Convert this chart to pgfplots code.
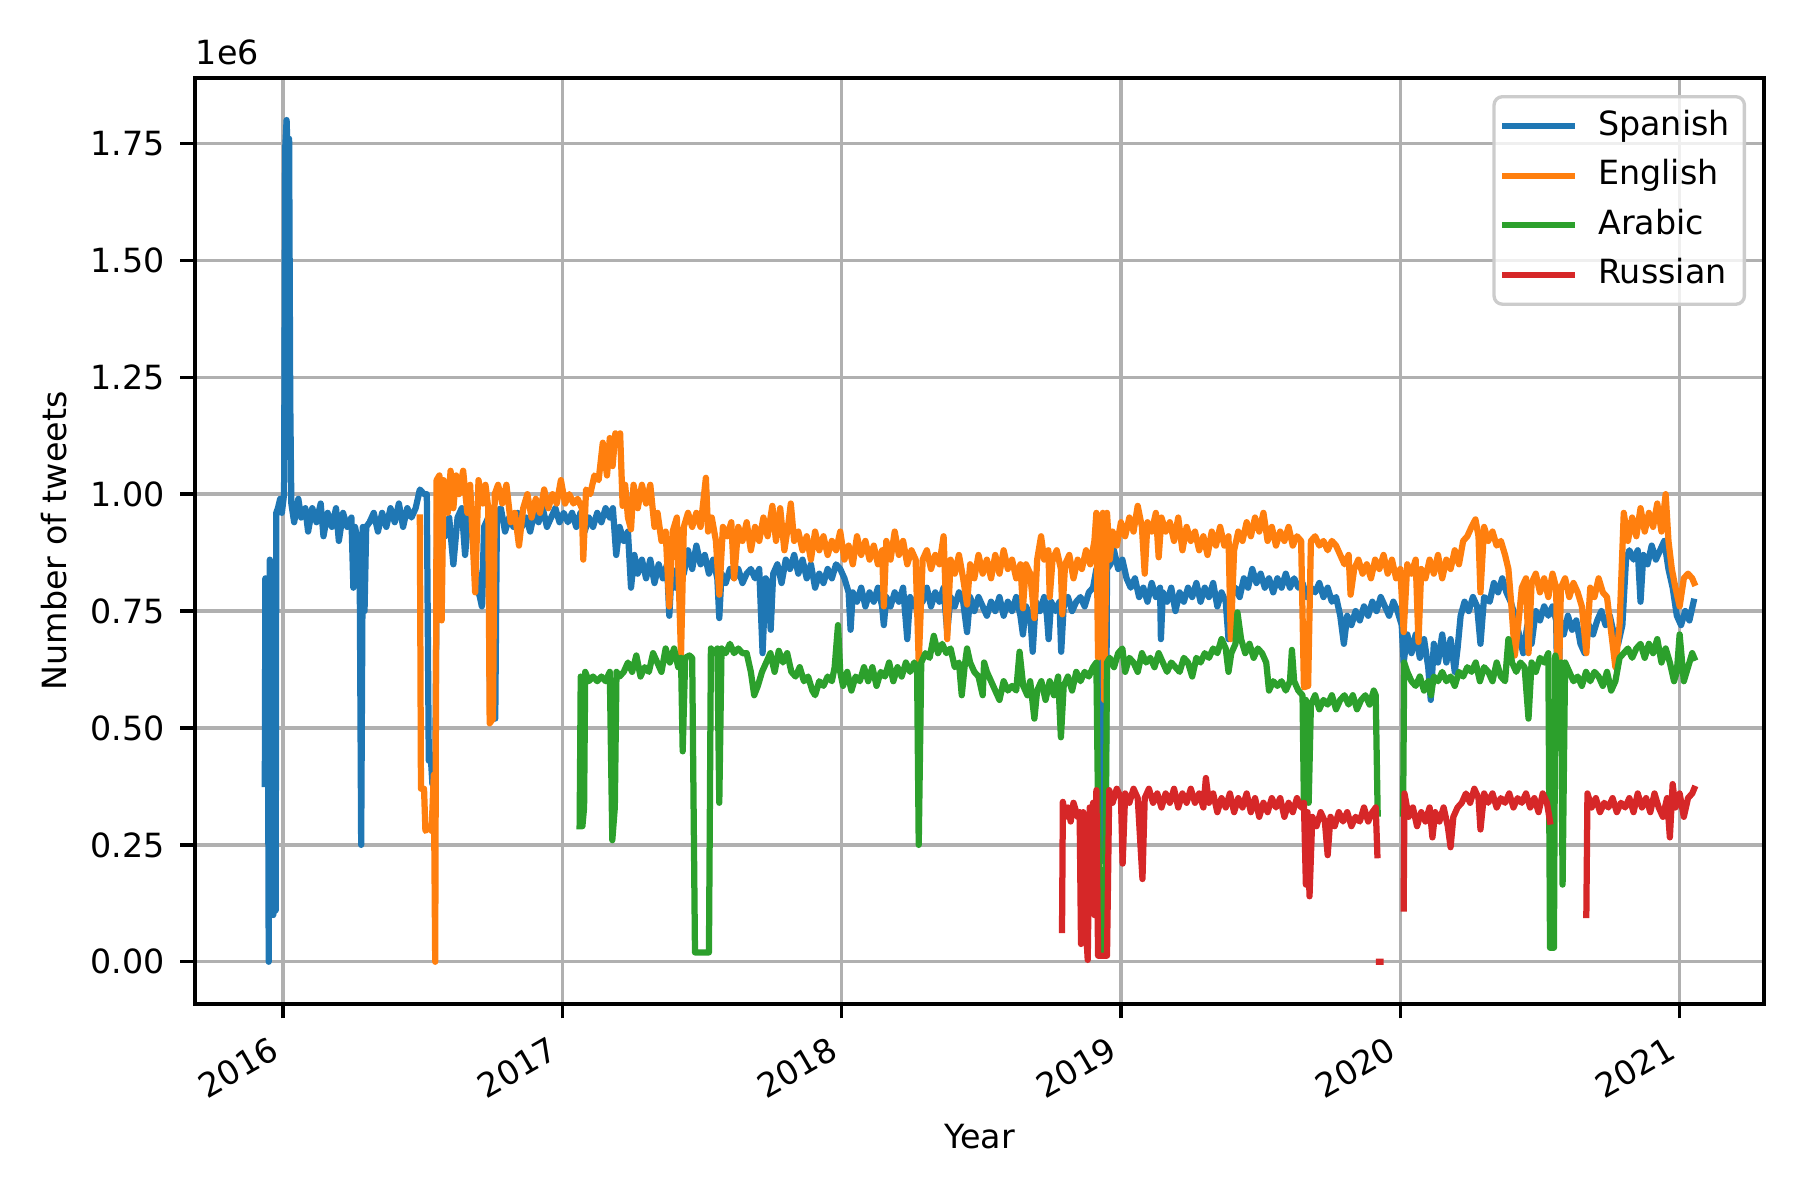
\documentclass[border=0pt]{standalone}
\usepackage{pgfplots}
\pgfplotsset{compat=1.18}
\usepackage{pgfplotstable}
\usepackage{fontspec}
\setmainfont{DejaVu Sans}
\definecolor{tabblue}{HTML}{1F77B4}
\definecolor{taborange}{HTML}{FF7F0E}
\definecolor{tabgreen}{HTML}{2CA02C}
\definecolor{tabred}{HTML}{D62728}
\definecolor{gridgray}{HTML}{B0B0B0}

\pgfplotstableread{
x y
2015.935 0.38
2015.937 0.82
2015.940 0.40
2015.945 0.80
2015.949 0.00
2015.953 0.86
2015.957 0.40
2015.961 0.84
2015.965 0.10
2015.970 0.12
2015.974 0.11
2015.976 0.96
2015.982 0.97
2015.990 0.99
2015.996 0.96
2016.004 1.00
2016.008 1.74
2016.013 1.80
2016.018 1.70
2016.022 1.76
2016.026 1.20
2016.030 0.98
2016.040 0.94
2016.055 0.99
2016.065 0.95
2016.080 0.97
2016.090 0.92
2016.105 0.97
2016.120 0.94
2016.135 0.98
2016.145 0.91
2016.160 0.96
2016.175 0.93
2016.190 0.97
2016.200 0.90
2016.215 0.96
2016.230 0.93
2016.245 0.95
2016.252 0.80
2016.258 0.93
2016.268 0.90
2016.275 0.80
2016.280 0.25
2016.286 0.93
2016.292 0.75
2016.298 0.93
2016.310 0.94
2016.325 0.96
2016.340 0.92
2016.355 0.96
2016.370 0.93
2016.385 0.97
2016.400 0.94
2016.415 0.98
2016.430 0.93
2016.445 0.97
2016.460 0.95
2016.475 0.97
2016.490 1.01
2016.505 1.00
2016.515 1.00
2016.522 0.43
2016.530 0.43
2016.535 0.38
2016.545 0.40
2016.552 0.97
2016.565 0.95
2016.580 0.91
2016.595 0.95
2016.610 0.85
2016.625 0.95
2016.640 0.97
2016.652 0.87
2016.665 0.96
2016.680 0.94
2016.695 0.80
2016.705 0.78
2016.712 0.76
2016.720 0.93
2016.735 0.95
2016.742 0.52
2016.760 0.52
2016.766 0.96
2016.780 0.97
2016.795 0.92
2016.810 0.95
2016.825 0.93
2016.840 0.96
2016.855 0.93
2016.870 0.95
2016.885 0.92
2016.900 0.96
2016.915 0.94
2016.930 0.97
2016.945 0.93
2016.960 0.95
2016.975 0.97
2016.990 0.94
2017.005 0.96
2017.020 0.94
2017.035 0.96
2017.050 0.93
2017.065 0.96
2017.080 0.92
2017.095 0.95
2017.110 0.93
2017.125 0.96
2017.140 0.94
2017.155 0.97
2017.170 0.95
2017.181 0.97
2017.193 0.87
2017.205 0.93
2017.220 0.90
2017.235 0.92
2017.246 0.80
2017.258 0.87
2017.270 0.83
2017.285 0.86
2017.300 0.82
2017.315 0.86
2017.330 0.81
2017.345 0.85
2017.360 0.82
2017.375 0.85
2017.383 0.74
2017.392 0.84
2017.405 0.80
2017.420 0.86
2017.435 0.83
2017.450 0.88
2017.465 0.84
2017.480 0.89
2017.495 0.85
2017.510 0.87
2017.525 0.83
2017.540 0.86
2017.555 0.82
2017.562 0.735
2017.570 0.83
2017.585 0.81
2017.600 0.84
2017.615 0.82
2017.630 0.84
2017.645 0.81
2017.660 0.83
2017.675 0.84
2017.690 0.82
2017.705 0.84
2017.717 0.66
2017.728 0.82
2017.738 0.81
2017.746 0.71
2017.755 0.83
2017.770 0.85
2017.785 0.81
2017.800 0.86
2017.815 0.84
2017.830 0.87
2017.845 0.83
2017.860 0.86
2017.875 0.82
2017.890 0.85
2017.905 0.80
2017.920 0.83
2017.935 0.81
2017.950 0.84
2017.965 0.82
2017.980 0.85
2017.995 0.84
2018.010 0.82
2018.025 0.79
2018.032 0.71
2018.040 0.79
2018.055 0.77
2018.070 0.80
2018.085 0.76
2018.100 0.79
2018.115 0.77
2018.130 0.80
2018.145 0.76
2018.151 0.72
2018.160 0.78
2018.175 0.76
2018.190 0.79
2018.205 0.77
2018.220 0.80
2018.235 0.69
2018.245 0.78
2018.260 0.76
2018.275 0.79
2018.290 0.77
2018.305 0.80
2018.320 0.76
2018.335 0.79
2018.350 0.77
2018.365 0.80
2018.378 0.705
2018.390 0.78
2018.405 0.76
2018.420 0.79
2018.435 0.77
2018.449 0.705
2018.460 0.78
2018.475 0.75
2018.490 0.78
2018.505 0.76
2018.520 0.74
2018.535 0.77
2018.550 0.75
2018.565 0.78
2018.580 0.74
2018.595 0.77
2018.610 0.75
2018.625 0.78
2018.640 0.74
2018.649 0.70
2018.660 0.76
2018.675 0.74
2018.684 0.663
2018.695 0.77
2018.710 0.75
2018.725 0.78
2018.735 0.74
2018.741 0.69
2018.750 0.77
2018.765 0.75
2018.780 0.77
2018.786 0.663
2018.795 0.76
2018.810 0.78
2018.825 0.75
2018.840 0.77
2018.855 0.78
2018.870 0.76
2018.885 0.79
2018.900 0.80
2018.912 0.84
2018.925 0.80
2018.935 0.215
2018.945 0.22
2018.950 0.84
2018.962 0.85
2018.975 0.88
2018.990 0.84
2019.005 0.86
2019.020 0.82
2019.035 0.80
2019.050 0.82
2019.065 0.78
2019.080 0.80
2019.095 0.77
2019.110 0.81
2019.125 0.78
2019.140 0.80
2019.143 0.69
2019.150 0.79
2019.165 0.77
2019.180 0.80
2019.195 0.75
2019.210 0.79
2019.225 0.77
2019.240 0.80
2019.255 0.78
2019.270 0.81
2019.285 0.77
2019.300 0.80
2019.315 0.78
2019.330 0.81
2019.345 0.76
2019.360 0.79
2019.375 0.77
2019.385 0.69
2019.395 0.78
2019.410 0.80
2019.425 0.78
2019.440 0.82
2019.455 0.80
2019.470 0.84
2019.485 0.81
2019.500 0.83
2019.515 0.80
2019.530 0.82
2019.545 0.79
2019.560 0.82
2019.575 0.80
2019.590 0.83
2019.605 0.80
2019.620 0.82
2019.635 0.80
2019.650 0.81
2019.665 0.78
2019.680 0.80
2019.695 0.79
2019.710 0.81
2019.725 0.78
2019.740 0.80
2019.755 0.77
2019.770 0.78
2019.785 0.74
2019.798 0.68
2019.810 0.74
2019.825 0.72
2019.840 0.75
2019.855 0.73
2019.870 0.76
2019.885 0.74
2019.900 0.77
2019.915 0.75
2019.930 0.78
2019.945 0.76
2019.960 0.74
2019.975 0.77
2019.990 0.75
2020.005 0.72
2020.012 0.64
2020.025 0.70
2020.040 0.66
2020.055 0.70
2020.070 0.65
2020.085 0.69
2020.100 0.63
2020.109 0.56
2020.120 0.68
2020.135 0.64
2020.150 0.70
2020.165 0.64
2020.180 0.69
2020.195 0.62
2020.205 0.67
2020.216 0.74
2020.230 0.77
2020.245 0.75
2020.260 0.78
2020.275 0.76
2020.287 0.68
2020.300 0.78
2020.320 0.77
2020.335 0.81
2020.350 0.79
2020.365 0.82
2020.380 0.79
2020.395 0.77
2020.410 0.74
2020.425 0.70
2020.440 0.66
2020.455 0.72
2020.470 0.68
2020.485 0.75
2020.500 0.73
2020.515 0.76
2020.530 0.74
2020.545 0.76
2020.558 0.73
2020.565 0.47
2020.572 0.73
2020.585 0.70
2020.600 0.74
2020.615 0.71
2020.630 0.73
2020.645 0.68
2020.660 0.66
2020.675 0.72
2020.690 0.70
2020.705 0.73
2020.720 0.75
2020.735 0.72
2020.750 0.74
2020.765 0.70
2020.780 0.68
2020.795 0.72
2020.808 0.86
2020.820 0.88
2020.835 0.86
2020.850 0.88
2020.860 0.77
2020.870 0.87
2020.885 0.85
2020.900 0.89
2020.915 0.86
2020.930 0.88
2020.945 0.90
2020.960 0.84
2020.975 0.80
2020.990 0.74
2021.005 0.72
2021.020 0.75
2021.035 0.73
2021.050 0.77
}\spanish

\pgfplotstableread{
x y
2016.490 0.95
2016.494 0.37
2016.505 0.37
2016.510 0.28
2016.525 0.29
2016.532 0.28
2016.540 0.40
2016.545 0.00
2016.550 1.03
2016.560 1.04
2016.568 0.73
2016.575 1.03
2016.590 0.96
2016.600 1.05
2016.610 0.97
2016.620 1.04
2016.630 1.00
2016.645 1.05
2016.660 0.96
2016.670 1.02
2016.688 0.79
2016.700 1.03
2016.715 0.98
2016.725 1.02
2016.735 0.97
2016.740 0.51
2016.752 0.52
2016.758 1.00
2016.770 1.02
2016.785 0.98
2016.800 1.02
2016.815 0.94
2016.830 0.96
2016.845 0.89
2016.860 0.97
2016.875 1.00
2016.890 0.95
2016.905 0.99
2016.920 0.96
2016.935 1.01
2016.950 0.97
2016.965 1.00
2016.980 0.98
2016.995 1.03
2017.010 0.98
2017.025 1.00
2017.040 0.98
2017.055 0.99
2017.070 0.97
2017.075 0.86
2017.085 1.01
2017.100 1.00
2017.115 1.04
2017.130 1.03
2017.145 1.11
2017.160 1.04
2017.170 1.12
2017.180 1.06
2017.190 1.13
2017.200 1.12
2017.207 1.13
2017.216 0.975
2017.225 1.02
2017.235 0.95
2017.246 0.925
2017.255 1.02
2017.270 0.97
2017.285 1.02
2017.300 0.98
2017.315 1.02
2017.330 0.93
2017.341 0.96
2017.355 0.90
2017.370 0.92
2017.383 0.76
2017.395 0.92
2017.410 0.95
2017.425 0.655
2017.435 0.93
2017.450 0.96
2017.465 0.93
2017.480 0.96
2017.495 0.93
2017.514 1.035
2017.522 0.92
2017.535 0.95
2017.550 0.90
2017.562 0.785
2017.575 0.93
2017.590 0.91
2017.605 0.94
2017.615 0.82
2017.630 0.93
2017.645 0.90
2017.660 0.94
2017.675 0.88
2017.690 0.93
2017.705 0.90
2017.720 0.95
2017.735 0.91
2017.752 0.975
2017.765 0.90
2017.780 0.97
2017.795 0.88
2017.810 0.94
2017.818 0.98
2017.830 0.90
2017.845 0.92
2017.860 0.88
2017.875 0.91
2017.890 0.86
2017.905 0.92
2017.920 0.88
2017.935 0.91
2017.950 0.87
2017.965 0.90
2017.980 0.88
2017.995 0.92
2018.010 0.86
2018.025 0.89
2018.040 0.85
2018.055 0.91
2018.070 0.87
2018.085 0.90
2018.100 0.86
2018.115 0.89
2018.130 0.85
2018.145 0.88
2018.151 0.76
2018.160 0.90
2018.175 0.86
2018.190 0.92
2018.205 0.87
2018.220 0.90
2018.235 0.85
2018.250 0.88
2018.265 0.86
2018.276 0.64
2018.290 0.86
2018.305 0.88
2018.320 0.84
2018.335 0.87
2018.350 0.85
2018.365 0.91
2018.378 0.69
2018.390 0.86
2018.405 0.83
2018.420 0.87
2018.435 0.82
2018.449 0.764
2018.460 0.85
2018.475 0.82
2018.490 0.87
2018.505 0.83
2018.520 0.86
2018.535 0.82
2018.550 0.87
2018.565 0.83
2018.580 0.88
2018.595 0.84
2018.610 0.86
2018.625 0.82
2018.640 0.85
2018.649 0.756
2018.660 0.85
2018.675 0.83
2018.690 0.735
2018.700 0.86
2018.714 0.91
2018.725 0.86
2018.740 0.88
2018.745 0.78
2018.755 0.86
2018.770 0.88
2018.785 0.84
2018.790 0.743
2018.800 0.85
2018.815 0.87
2018.830 0.82
2018.845 0.86
2018.860 0.84
2018.875 0.88
2018.890 0.85
2018.905 0.90
2018.912 0.96
2018.918 0.65
2018.925 0.88
2018.935 0.96
2018.940 0.56
2018.950 0.96
2018.960 0.86
2018.970 0.92
2018.985 0.89
2019.000 0.94
2019.015 0.91
2019.030 0.95
2019.045 0.92
2019.060 0.975
2019.075 0.93
2019.085 0.83
2019.095 0.94
2019.110 0.92
2019.125 0.96
2019.135 0.865
2019.145 0.95
2019.160 0.92
2019.175 0.94
2019.190 0.90
2019.205 0.95
2019.220 0.88
2019.235 0.93
2019.250 0.90
2019.265 0.92
2019.280 0.88
2019.295 0.91
2019.310 0.87
2019.325 0.92
2019.340 0.89
2019.355 0.93
2019.370 0.89
2019.385 0.91
2019.393 0.69
2019.405 0.88
2019.420 0.92
2019.435 0.90
2019.450 0.94
2019.465 0.91
2019.480 0.95
2019.495 0.92
2019.510 0.96
2019.525 0.90
2019.540 0.93
2019.555 0.89
2019.570 0.92
2019.585 0.90
2019.600 0.93
2019.615 0.89
2019.630 0.91
2019.645 0.90
2019.655 0.587
2019.670 0.59
2019.680 0.90
2019.695 0.91
2019.710 0.89
2019.725 0.90
2019.740 0.88
2019.755 0.90
2019.770 0.89
2019.785 0.87
2019.800 0.85
2019.815 0.87
2019.822 0.785
2019.835 0.84
2019.850 0.86
2019.865 0.83
2019.880 0.85
2019.895 0.82
2019.910 0.86
2019.925 0.84
2019.940 0.87
2019.955 0.83
2019.970 0.86
2019.985 0.82
2020.000 0.84
2020.012 0.705
2020.025 0.85
2020.040 0.83
2020.055 0.86
2020.065 0.684
2020.075 0.84
2020.090 0.82
2020.105 0.86
2020.120 0.83
2020.135 0.87
2020.150 0.82
2020.165 0.86
2020.180 0.84
2020.195 0.88
2020.210 0.85
2020.225 0.90
2020.240 0.91
2020.255 0.93
2020.269 0.946
2020.280 0.91
2020.287 0.79
2020.300 0.93
2020.315 0.90
2020.330 0.92
2020.345 0.89
2020.360 0.90
2020.375 0.87
2020.387 0.84
2020.398 0.76
2020.410 0.655
2020.422 0.72
2020.435 0.80
2020.450 0.82
2020.459 0.66
2020.470 0.81
2020.485 0.83
2020.500 0.79
2020.515 0.82
2020.530 0.78
2020.545 0.83
2020.558 0.80
2020.565 0.52
2020.575 0.80
2020.590 0.82
2020.605 0.78
2020.620 0.81
2020.635 0.79
2020.650 0.76
2020.666 0.66
2020.680 0.80
2020.695 0.78
2020.710 0.82
2020.725 0.79
2020.740 0.78
2020.752 0.72
2020.770 0.63
2020.785 0.72
2020.800 0.96
2020.815 0.90
2020.830 0.95
2020.845 0.91
2020.860 0.97
2020.875 0.92
2020.890 0.96
2020.905 0.93
2020.920 0.98
2020.935 0.92
2020.950 1.00
2020.960 0.90
2020.972 0.84
2020.985 0.80
2021.000 0.76
2021.015 0.82
2021.030 0.83
2021.045 0.82
2021.052 0.81
}\english

\pgfplotstableread{
x y
2017.062 0.29
2017.066 0.61
2017.072 0.29
2017.078 0.33
2017.082 0.62
2017.095 0.60
2017.110 0.61
2017.125 0.60
2017.140 0.61
2017.155 0.60
2017.170 0.62
2017.179 0.26
2017.188 0.33
2017.194 0.62
2017.205 0.61
2017.220 0.62
2017.235 0.64
2017.250 0.62
2017.265 0.655
2017.280 0.61
2017.295 0.63
2017.310 0.62
2017.325 0.66
2017.340 0.64
2017.355 0.62
2017.370 0.67
2017.385 0.64
2017.400 0.67
2017.415 0.63
2017.425 0.65
2017.431 0.45
2017.440 0.65
2017.455 0.655
2017.465 0.65
2017.475 0.02
2017.500 0.02
2017.525 0.02
2017.532 0.67
2017.545 0.66
2017.555 0.67
2017.562 0.34
2017.570 0.67
2017.585 0.66
2017.600 0.68
2017.615 0.66
2017.630 0.67
2017.645 0.66
2017.660 0.66
2017.675 0.62
2017.687 0.57
2017.700 0.59
2017.715 0.62
2017.730 0.64
2017.745 0.66
2017.760 0.62
2017.775 0.665
2017.790 0.64
2017.805 0.66
2017.820 0.62
2017.835 0.61
2017.850 0.63
2017.865 0.60
2017.880 0.61
2017.895 0.58
2017.905 0.57
2017.920 0.60
2017.935 0.59
2017.950 0.61
2017.965 0.60
2017.975 0.63
2017.987 0.72
2017.995 0.62
2018.005 0.59
2018.020 0.62
2018.035 0.58
2018.050 0.61
2018.065 0.60
2018.080 0.63
2018.095 0.60
2018.110 0.63
2018.125 0.59
2018.140 0.62
2018.155 0.61
2018.170 0.64
2018.185 0.60
2018.200 0.63
2018.215 0.61
2018.230 0.64
2018.245 0.62
2018.260 0.64
2018.270 0.63
2018.276 0.25
2018.285 0.64
2018.300 0.66
2018.315 0.65
2018.330 0.697
2018.345 0.66
2018.360 0.68
2018.375 0.66
2018.390 0.67
2018.405 0.63
2018.420 0.64
2018.430 0.57
2018.440 0.63
2018.449 0.67
2018.460 0.64
2018.475 0.62
2018.490 0.61
2018.505 0.57
2018.510 0.64
2018.520 0.62
2018.535 0.60
2018.550 0.58
2018.565 0.56
2018.580 0.60
2018.595 0.58
2018.610 0.59
2018.625 0.58
2018.637 0.663
2018.650 0.59
2018.665 0.57
2018.675 0.60
2018.690 0.52
2018.700 0.58
2018.715 0.60
2018.730 0.56
2018.745 0.60
2018.760 0.57
2018.775 0.61
2018.785 0.48
2018.795 0.59
2018.810 0.61
2018.825 0.58
2018.840 0.62
2018.855 0.60
2018.870 0.62
2018.885 0.61
2018.900 0.63
2018.912 0.64
2018.917 0.376
2018.925 0.02
2018.935 0.02
2018.942 0.02
2018.950 0.64
2018.960 0.65
2018.975 0.63
2018.990 0.66
2019.005 0.67
2019.015 0.62
2019.030 0.65
2019.045 0.64
2019.060 0.62
2019.075 0.66
2019.090 0.64
2019.105 0.65
2019.120 0.63
2019.135 0.66
2019.150 0.64
2019.165 0.62
2019.180 0.64
2019.195 0.63
2019.210 0.62
2019.225 0.65
2019.240 0.64
2019.255 0.61
2019.270 0.65
2019.285 0.64
2019.300 0.66
2019.315 0.65
2019.330 0.67
2019.345 0.66
2019.360 0.69
2019.375 0.67
2019.385 0.62
2019.395 0.66
2019.410 0.68
2019.417 0.747
2019.430 0.69
2019.445 0.66
2019.460 0.68
2019.475 0.65
2019.490 0.67
2019.505 0.66
2019.520 0.64
2019.530 0.58
2019.545 0.60
2019.560 0.59
2019.575 0.60
2019.590 0.58
2019.605 0.60
2019.612 0.667
2019.620 0.60
2019.635 0.58
2019.650 0.57
2019.655 0.334
2019.662 0.56
2019.672 0.34
2019.680 0.55
2019.695 0.57
2019.710 0.54
2019.725 0.56
2019.740 0.55
2019.755 0.57
2019.770 0.54
2019.785 0.56
2019.800 0.57
2019.815 0.55
2019.830 0.57
2019.845 0.54
2019.860 0.56
2019.875 0.57
2019.890 0.55
2019.905 0.58
2019.912 0.57
2019.919 0.317
nan nan
2020.010 0.317
2020.014 0.64
2020.025 0.62
2020.040 0.60
2020.055 0.59
2020.070 0.61
2020.085 0.58
2020.100 0.60
2020.110 0.57
2020.120 0.61
2020.135 0.60
2020.150 0.62
2020.165 0.60
2020.180 0.61
2020.195 0.59
2020.210 0.62
2020.225 0.61
2020.240 0.63
2020.255 0.62
2020.270 0.64
2020.285 0.60
2020.300 0.63
2020.315 0.62
2020.330 0.60
2020.345 0.64
2020.360 0.61
2020.375 0.60
2020.387 0.69
2020.400 0.64
2020.415 0.62
2020.430 0.64
2020.445 0.63
2020.459 0.52
2020.470 0.64
2020.485 0.62
2020.500 0.65
2020.515 0.64
2020.530 0.66
2020.536 0.03
2020.550 0.03
2020.555 0.655
2020.565 0.62
2020.575 0.64
2020.581 0.165
2020.590 0.64
2020.605 0.62
2020.620 0.60
2020.635 0.61
2020.650 0.59
2020.665 0.62
2020.680 0.60
2020.695 0.62
2020.710 0.61
2020.725 0.59
2020.740 0.62
2020.755 0.58
2020.770 0.60
2020.785 0.65
2020.800 0.66
2020.815 0.67
2020.830 0.65
2020.845 0.67
2020.860 0.68
2020.875 0.65
2020.890 0.68
2020.905 0.66
2020.920 0.69
2020.935 0.64
2020.950 0.67
2020.965 0.64
2020.980 0.60
2020.990 0.62
2021.000 0.70
2021.015 0.60
2021.030 0.63
2021.045 0.66
2021.052 0.65
}\arabic

\pgfplotstableread{
x y
2018.789 0.068
2018.792 0.342
2018.800 0.31
2018.810 0.33
2018.820 0.30
2018.830 0.34
2018.845 0.31
2018.852 0.32
2018.857 0.038
2018.865 0.32
2018.872 0.10
2018.881 0.004
2018.888 0.33
2018.895 0.13
2018.900 0.34
2018.905 0.10
2018.912 0.367
2018.918 0.013
2018.935 0.013
2018.950 0.013
2018.958 0.367
2018.970 0.34
2018.985 0.37
2019.000 0.35
2019.006 0.21
2019.015 0.36
2019.030 0.34
2019.045 0.37
2019.060 0.35
2019.077 0.177
2019.085 0.35
2019.100 0.37
2019.115 0.34
2019.130 0.36
2019.145 0.33
2019.160 0.36
2019.175 0.34
2019.190 0.37
2019.205 0.33
2019.220 0.36
2019.235 0.34
2019.250 0.37
2019.265 0.34
2019.280 0.36
2019.295 0.33
2019.304 0.393
2019.315 0.34
2019.330 0.36
2019.345 0.32
2019.360 0.35
2019.375 0.33
2019.390 0.36
2019.405 0.32
2019.420 0.35
2019.435 0.33
2019.450 0.36
2019.465 0.32
2019.480 0.35
2019.495 0.31
2019.510 0.34
2019.525 0.32
2019.540 0.35
2019.555 0.33
2019.570 0.35
2019.585 0.31
2019.600 0.34
2019.615 0.32
2019.630 0.35
2019.645 0.33
2019.655 0.34
2019.662 0.165
2019.668 0.32
2019.675 0.14
2019.685 0.31
2019.700 0.29
2019.715 0.32
2019.730 0.30
2019.740 0.228
2019.750 0.31
2019.765 0.29
2019.780 0.32
2019.795 0.30
2019.810 0.32
2019.825 0.29
2019.840 0.31
2019.855 0.30
2019.870 0.33
2019.885 0.30
2019.900 0.32
2019.912 0.33
2019.918 0.228
nan nan
2019.924 0.0
2019.929 0.0
nan nan
2020.012 0.114
2020.015 0.36
2020.030 0.31
2020.045 0.33
2020.060 0.29
2020.075 0.32
2020.090 0.30
2020.105 0.33
2020.115 0.266
2020.125 0.32
2020.140 0.30
2020.155 0.33
2020.170 0.29
2020.180 0.245
2020.190 0.31
2020.205 0.33
2020.220 0.34
2020.235 0.36
2020.250 0.34
2020.265 0.37
2020.280 0.35
2020.287 0.283
2020.300 0.36
2020.315 0.34
2020.330 0.36
2020.345 0.33
2020.360 0.35
2020.375 0.34
2020.390 0.36
2020.405 0.33
2020.420 0.35
2020.435 0.34
2020.450 0.36
2020.465 0.33
2020.480 0.35
2020.495 0.32
2020.510 0.36
2020.525 0.34
2020.536 0.30
nan nan
2020.666 0.10
2020.670 0.36
2020.685 0.33
2020.700 0.35
2020.715 0.32
2020.730 0.34
2020.745 0.33
2020.760 0.35
2020.775 0.32
2020.790 0.34
2020.805 0.33
2020.820 0.35
2020.835 0.32
2020.850 0.36
2020.865 0.33
2020.880 0.35
2020.895 0.32
2020.910 0.36
2020.925 0.33
2020.940 0.31
2020.955 0.35
2020.965 0.266
2020.975 0.38
2020.985 0.33
2021.000 0.36
2021.015 0.31
2021.030 0.35
2021.045 0.36
2021.052 0.37
}\russian

\begin{document}
\begin{tikzpicture}
\path[use as bounding box] (-46.8pt,-47.04pt) rectangle (385.24pt,240.96pt);
\begin{axis}[
  at={(0pt,0pt)}, anchor=south west,
  scale only axis, width=376.6pt, height=222.24pt,
  xmin=2015.685, xmax=2021.302,
  ymin=-0.09, ymax=1.89,
  xtick={2016,2017,2018,2019,2020,2021},
  xticklabels={2016,2017,2018,2019,2020,2021},
  ytick={0,0.25,0.5,0.75,1,1.25,1.5,1.75},
  yticklabels={0.00,0.25,0.50,0.75,1.00,1.25,1.50,1.75},
  tick pos=left, tick align=outside,
  major tick length=3.5pt,
  every tick/.style={black, line width=0.8pt},
  axis line style={line width=0.8pt},
  grid=major,
  major grid style={gridgray, line width=0.8pt},
  tick label style={font=\fontsize{8}{9.6}\selectfont},
  xticklabel style={xshift=-3pt, yshift=-2.4pt, rotate=30, anchor=north east, inner sep=1pt},
  yticklabel style={inner sep=1pt, xshift=-2.5pt},
  unbounded coords=jump,
  every axis plot/.append style={line width=1.5pt, line join=round, line cap=rect},
  legend cell align=left,
  legend style={at={(rel axis cs:1,1)}, anchor=north east, xshift=-4.3pt, yshift=-4.1pt,
    draw=black!20, line width=0.8pt, rounded corners=2pt, fill=white, fill opacity=0.8,
    text opacity=1, draw opacity=1, font=\fontsize{8}{9.6}\selectfont,
    row sep=2.2pt, column sep=4pt, inner xsep=2pt, inner ysep=2.2pt,
    nodes={text height=6pt, text depth=1.7pt, inner ysep=1pt, inner xsep=1.5pt}},
  legend image code/.code={\draw[#1, line cap=rect] (0.75pt,0pt) -- (16.75pt,0pt);},
]
\addplot[tabblue] table[x=x,y=y] {\spanish};
\addlegendentry{Spanish}
\addplot[taborange] table[x=x,y=y] {\english};
\addlegendentry{English}
\addplot[tabgreen] table[x=x,y=y] {\arabic};
\addlegendentry{Arabic}
\addplot[tabred] table[x=x,y=y] {\russian};
\addlegendentry{Russian}
\end{axis}
\node[anchor=south west, inner sep=0pt, font=\fontsize{8}{9.6}\selectfont] at (0pt,225.2pt) {1e6};
\node[rotate=90, font=\fontsize{8}{9.6}\selectfont] at (-33.8pt,111.12pt) {Number of tweets};
\node[font=\fontsize{8}{9.6}\selectfont] at (188.3pt,-31.8pt) {Year};
\end{tikzpicture}
\end{document}
